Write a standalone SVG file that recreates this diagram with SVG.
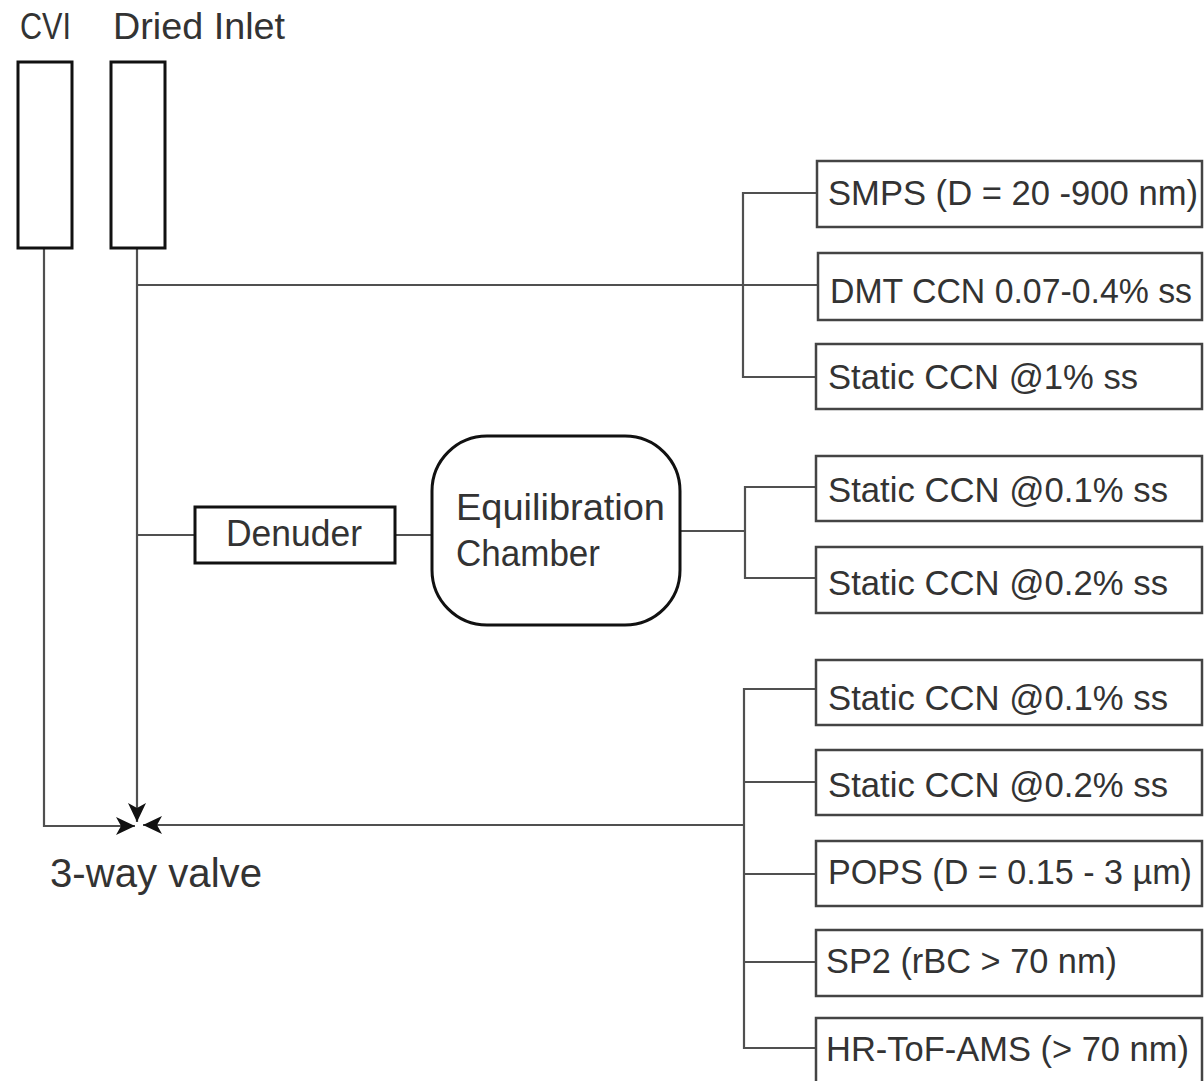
<svg xmlns="http://www.w3.org/2000/svg" width="1204" height="1081" viewBox="0 0 1204 1081">
<style>
text{font-family:"Liberation Sans",Arial,sans-serif;fill:#333;}
.lab{font-size:37px;}
.box{font-size:34.5px;}
.inlet{fill:#fff;stroke:#111;stroke-width:3;}
.inst{fill:#fff;stroke:#444;stroke-width:2.5;}
.ln{fill:none;stroke:#505050;stroke-width:2.2;}
</style>
<defs>
<marker id="ah" markerUnits="userSpaceOnUse" markerWidth="22" markerHeight="20" refX="19" refY="9" orient="auto">
<path d="M0,0 L19,9 L0,18 L5,9 z" fill="#111"/>
</marker>
</defs>
<rect width="1204" height="1081" fill="#fff"/>
<g id="connectors">
<path class="ln" d="M44,249 V826 H135" marker-end="url(#ah)"/>
<path class="ln" d="M137,249 V822" marker-end="url(#ah)"/>
<path class="ln" d="M744,825 H143" marker-end="url(#ah)"/>
<path class="ln" d="M137,285 H818"/>
<path class="ln" d="M817,193 H743 V377 H816"/>
<path class="ln" d="M137,535 H195 M395,535 H432 M680,531 H745"/>
<path class="ln" d="M816,487 H745 V578 H816"/>
<path class="ln" d="M816,689 H744 V1048 H816 M744,782 H816 M744,874 H816 M744,962 H816"/>
</g>
<g id="cvi">
<rect class="inlet" x="18" y="62" width="54" height="186"/>
<text class="lab" x="20" y="39" textLength="51" lengthAdjust="spacingAndGlyphs">CVI</text>
</g>
<g id="dried-inlet">
<rect class="inlet" x="111" y="62" width="54" height="186"/>
<text class="lab" x="113" y="39" textLength="172" lengthAdjust="spacingAndGlyphs">Dried Inlet</text>
</g>
<g id="denuder">
<rect class="inlet" x="195" y="507" width="200" height="56"/>
<text class="lab" x="226" y="546" textLength="136" lengthAdjust="spacingAndGlyphs">Denuder</text>
</g>
<g id="chamber">
<rect class="inlet" x="432" y="436" width="248" height="189" rx="55" ry="55"/>
<text class="lab" x="456" y="520" textLength="209" lengthAdjust="spacingAndGlyphs">Equilibration</text>
<text class="lab" x="456" y="566" textLength="144" lengthAdjust="spacingAndGlyphs">Chamber</text>
</g>
<g id="smps">
<rect class="inst" x="817" y="161" width="385" height="66"/>
<text class="box" x="828" y="205" textLength="370" lengthAdjust="spacingAndGlyphs">SMPS (D = 20 -900 nm)</text>
</g>
<g id="dmt-ccn">
<rect class="inst" x="818" y="253" width="384" height="67"/>
<text class="box" x="830" y="303" textLength="362" lengthAdjust="spacingAndGlyphs">DMT CCN 0.07-0.4% ss</text>
</g>
<g id="static-1">
<rect class="inst" x="816" y="344" width="386" height="65"/>
<text class="box" x="828" y="389" textLength="310" lengthAdjust="spacingAndGlyphs">Static CCN @1% ss</text>
</g>
<g id="static-01a">
<rect class="inst" x="816" y="456" width="386" height="65"/>
<text class="box" x="828" y="502" textLength="340" lengthAdjust="spacingAndGlyphs">Static CCN @0.1% ss</text>
</g>
<g id="static-02a">
<rect class="inst" x="816" y="547" width="386" height="66"/>
<text class="box" x="828" y="595" textLength="340" lengthAdjust="spacingAndGlyphs">Static CCN @0.2% ss</text>
</g>
<g id="static-01b">
<rect class="inst" x="816" y="660" width="386" height="65"/>
<text class="box" x="828" y="710" textLength="340" lengthAdjust="spacingAndGlyphs">Static CCN @0.1% ss</text>
</g>
<g id="static-02b">
<rect class="inst" x="816" y="750" width="386" height="65"/>
<text class="box" x="828" y="797" textLength="340" lengthAdjust="spacingAndGlyphs">Static CCN @0.2% ss</text>
</g>
<g id="pops">
<rect class="inst" x="816" y="841" width="386" height="65"/>
<text class="box" x="828" y="884" textLength="364" lengthAdjust="spacingAndGlyphs">POPS (D = 0.15 - 3 µm)</text>
</g>
<g id="sp2">
<rect class="inst" x="816" y="930" width="386" height="66"/>
<text class="box" x="826" y="973" textLength="291" lengthAdjust="spacingAndGlyphs">SP2 (rBC &gt; 70 nm)</text>
</g>
<g id="ams">
<rect class="inst" x="816" y="1018" width="386" height="80"/>
<text class="box" x="826" y="1061" textLength="363" lengthAdjust="spacingAndGlyphs">HR-ToF-AMS (&gt; 70 nm)</text>
</g>
<g id="valve">
<text x="50" y="887" style="font-size:40px" textLength="212" lengthAdjust="spacingAndGlyphs">3-way valve</text>
</g>
</svg>
